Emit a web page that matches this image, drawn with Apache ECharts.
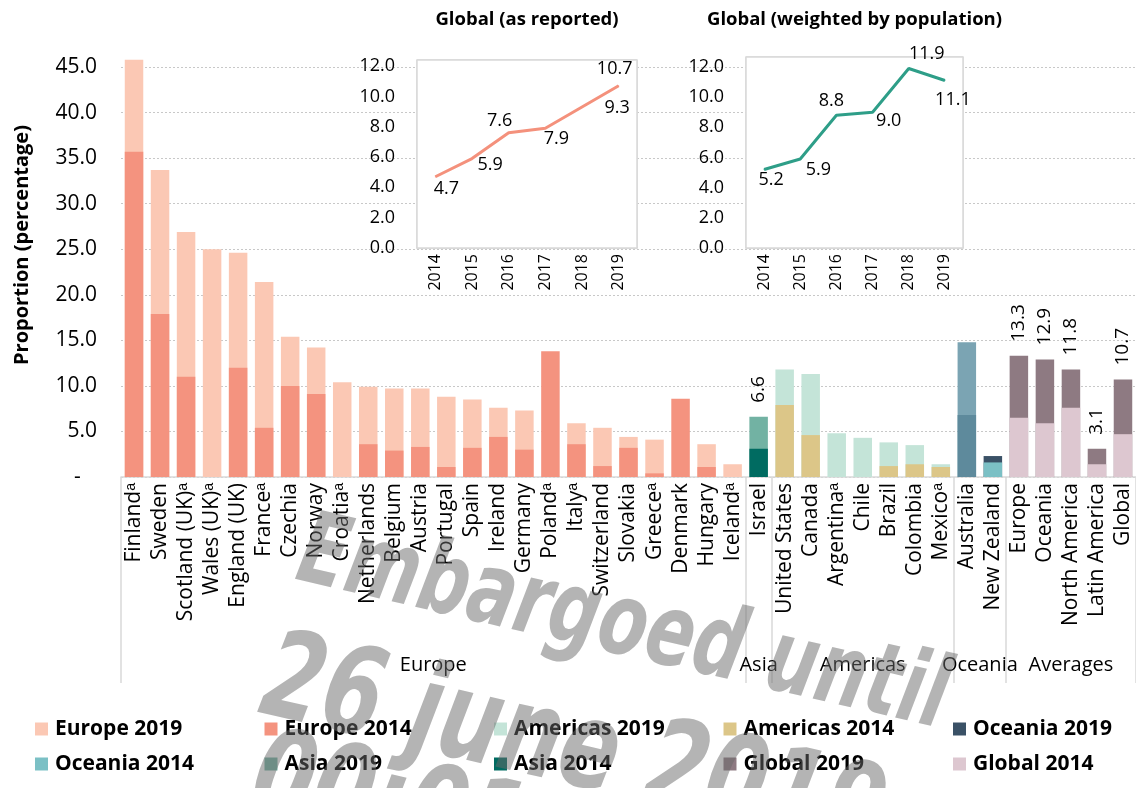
<!DOCTYPE html>
<html><head><meta charset="utf-8">
<script src="https://cdn.jsdelivr.net/npm/echarts@6/dist/echarts.min.js"></script>
<style>html,body{margin:0;padding:0;background:#fff}#c{width:1136px;height:788px}</style>
</head><body><div id="c"></div>
<script>
// ---------------- DATA ----------------
const europeCats = ['Finlandᵃ','Sweden','Scotland (UK)ᵃ','Wales (UK)ᵃ','England (UK)','Franceᵃ','Czechia','Norway','Croatiaᵃ','Netherlands','Belgium','Austria','Portugal','Spain','Ireland','Germany','Polandᵃ','Italyᵃ','Switzerland','Slovakia','Greeceᵃ','Denmark','Hungary','Icelandᵃ'];
const asiaCats = ['Israel'];
const americasCats = ['United States','Canada','Argentinaᵃ','Chile','Brazil','Colombia','Mexicoᵃ'];
const oceaniaCats = ['Australia','New Zealand'];
const averageCats = ['Europe','Oceania','North America','Latin America','Global'];
const groupNames = ['Europe','Asia','Americas','Oceania','Averages'];

const europe2019 = [45.8,33.7,26.9,25.0,24.6,21.4,15.4,14.2,10.4,9.9,9.7,9.7,8.8,8.5,7.6,7.3,null,5.9,5.4,4.4,4.1,null,3.6,1.4];
const europe2014 = [35.7,17.9,11.0,null,12.0,5.4,10.0,9.1,null,3.6,2.9,3.3,1.1,3.2,4.4,3.0,13.8,3.6,1.2,3.2,0.4,8.6,1.1,null];
const asia2019 = [6.6];
const asia2014 = [3.1];
const americas2019 = [11.8,11.3,4.8,4.3,3.8,3.5,1.4];
const americas2014 = [7.9,4.6,null,null,1.2,1.4,1.1];
const oceania2019 = [14.8,2.3];
const oceania2014 = [6.8,1.6];
const global2019 = [13.3,12.9,11.8,3.1,10.7];
const global2014 = [6.5,5.9,7.6,1.4,4.7];

const years = ['2014','2015','2016','2017','2018','2019'];
const globalReported = [4.7,5.9,7.6,7.9,9.3,10.7];
const globalWeighted = [5.2,5.9,8.8,9.0,11.9,11.1];

const insetTitles = ['Global (as reported)','Global (weighted by population)'];
const yAxisTitle = 'Proportion (percentage)';
const watermarkLines = ['Embargoed until','26 june 2019','00:01 AM'];

// ---------------- BUILD ----------------
const groups = [europeCats, asiaCats, americasCats, oceaniaCats, averageCats];
const categories = [].concat(...groups);
const N = categories.length;
const groupStart = [];
{ let s = 0; groups.forEach(g => { groupStart.push(s); s += g.length; }); groupStart.push(s); }

function place(vals, g) {
  const out = new Array(N).fill(null);
  vals.forEach((v, i) => { out[groupStart[g] + i] = v; });
  return out;
}

const FONT = '"Open Sans", sans-serif';
const seriesDefs = [
  {name:'Europe 2019', vals:europe2019, g:0, color:'#fbc8b4'},
  {name:'Americas 2019', vals:americas2019, g:2, color:'#c4e4d8'},
  {name:'Oceania 2019', vals:oceania2019, g:3, color:'#3a5166', firstColor:'#7ba4b3'},
  {name:'Asia 2019', vals:asia2019, g:1, color:'#72b2a3', label:true},
  {name:'Global 2019', vals:global2019, g:4, color:'#8e7a82', label:true},
  {name:'Europe 2014', vals:europe2014, g:0, color:'#f4937f'},
  {name:'Americas 2014', vals:americas2014, g:2, color:'#dcc688'},
  {name:'Oceania 2014', vals:oceania2014, g:3, color:'#7bc0c5', firstColor:'#5e8a9c'},
  {name:'Asia 2014', vals:asia2014, g:1, color:'#006b61'},
  {name:'Global 2014', vals:global2014, g:4, color:'#ddc7d0'}
];
const legendOrder = ['Europe 2019','Europe 2014','Americas 2019','Americas 2014','Oceania 2019',
                     'Oceania 2014','Asia 2019','Asia 2014','Global 2019','Global 2014'];

const barSeries = seriesDefs.map(d => {
  const data = place(d.vals, d.g).map((v, i) => {
    if (v == null) return null;
    if (d.firstColor && i === groupStart[d.g]) return {value: v, itemStyle: {color: d.firstColor}};
    return v;
  });
  return {
    name: d.name, type: 'bar', xAxisIndex: 0, yAxisIndex: 0,
    barWidth: 18.5, barGap: '-100%', clip: false,
    itemStyle: {color: d.color},
    emphasis: {disabled: true},
    label: d.label ? {show: true, position: 'top', rotate: 90, align: 'left', verticalAlign: 'middle',
      distance: 14, fontSize: 19, fontFamily: FONT, color: '#000',
      formatter: p => Number(p.value).toFixed(1)} : {show: false},
    data
  };
});

const reportedLabelPos = [['bottom',[11,-2]],['right',[0,6]],['top',[-9,3]],['bottom',[11,-4]],['right',[17,1]],['top',[-4,-2]]];
const weightedLabelPos = [['bottom',[7,-4]],['right',[0,11]],['top',[-5,0]],['right',[-2,9]],['top',[18,0]],['bottom',[8,5]]];

function lineSeries(name, vals, idx, color, pos) {
  return {
    name, type: 'line', xAxisIndex: idx, yAxisIndex: idx,
    symbol: 'circle', symbolSize: 1, lineStyle: {color, width: 3}, itemStyle: {color},
    emphasis: {disabled: true}, z: 5,
    data: vals.map((v, i) => ({value: v, label: {show: true, position: pos[i][0], offset: pos[i][1],
      fontSize: 18, fontFamily: FONT, color: '#000', formatter: p => Number(p.value).toFixed(1)}}))
  };
}

const insetGrids = [{left: 417, top: 60, width: 220, height: 188}, {left: 746, top: 57, width: 217, height: 191}];
const insetMax = [12.4, 12.66];

const option = {
  backgroundColor: '#fff',
  animation: false,
  textStyle: {fontFamily: FONT},
  grid: [
    {left: 121, right: 0, top: 67, bottom: 311},
    Object.assign({show: true, backgroundColor: '#fff', borderColor: '#d9d9d9', borderWidth: 1.5, z: 3}, insetGrids[0]),
    Object.assign({show: true, backgroundColor: '#fff', borderColor: '#d9d9d9', borderWidth: 1.5, z: 3}, insetGrids[1])
  ],
  xAxis: [
    {type: 'category', gridIndex: 0, data: categories, boundaryGap: true,
     axisLine: {lineStyle: {color: '#d9d9d9', width: 1.5}},
     axisTick: {show: true, interval: (i) => groupStart.indexOf(i) >= 0, length: 206, lineStyle: {color: '#d9d9d9', width: 1.5}},
     axisLabel: {interval: 0, rotate: 90, margin: 6, fontSize: 21, fontFamily: FONT, color: '#000'}},
    ...[1,2].map(k => ({type: 'category', gridIndex: k, data: years, boundaryGap: true,
     axisLine: {lineStyle: {color: '#d9d9d9', width: 1.5}}, axisTick: {show: false},
     splitLine: {show: true, interval: 0, lineStyle: {color: '#d9d9d9', width: 1.5}},
     axisLabel: {interval: 0, rotate: 90, margin: 6, fontSize: 16, fontFamily: FONT, color: '#000'}}))
  ],
  yAxis: [
    {type: 'value', gridIndex: 0, min: 0, max: 45, interval: 5,
     axisLine: {show: false}, axisTick: {show: false},
     splitLine: {lineStyle: {color: '#c8c8c8', type: [2, 2], width: 1}},
     axisLabel: {margin: 24, fontSize: 21, fontFamily: FONT, color: '#000',
       formatter: v => v === 0 ? '-   ' : v.toFixed(1)}},
    ...[1,2].map(k => ({type: 'value', gridIndex: k, min: 0, max: insetMax[k-1], interval: 2,
     axisLine: {show: false}, axisTick: {show: false},
     splitLine: {lineStyle: {color: '#d9d9d9', width: 1.5}},
     axisLabel: {margin: 22, fontSize: 18, fontFamily: FONT, color: '#000', showMaxLabel: false,
       formatter: v => v.toFixed(1)}}))
  ],
  legend: legendOrder.map((name, i) => ({
    data: [name], left: 35 + 229.5 * (i % 5), top: i < 5 ? 717 : 752, padding: 0,
    itemWidth: 13, itemHeight: 13, icon: 'rect', selectedMode: false,
    textStyle: {fontSize: 21, fontWeight: 'bold', fontFamily: FONT, color: '#000', lineHeight: 24, padding: [0,0,0,2]}
  })),
  series: [
    ...barSeries,
    lineSeries('Global (as reported)', globalReported, 1, '#f4917c', reportedLabelPos),
    lineSeries('Global (weighted by population)', globalWeighted, 2, '#2e9e88', weightedLabelPos)
  ]
};

const chart = echarts.init(document.getElementById('c'), null, {renderer: 'canvas'});
chart.setOption(option);

// graphic: titles, group labels, watermark
const graphics = [];
graphics.push({type: 'text', x: 22, y: 245, rotation: Math.PI / 2, z: 10,
  style: {text: yAxisTitle, fontSize: 20, fontWeight: 'bold', fontFamily: FONT, fill: '#000', align: 'center', verticalAlign: 'middle'}});
insetGrids.forEach((g, i) => graphics.push({type: 'text', x: g.left + g.width / 2, y: 20, z: 10,
  style: {text: insetTitles[i], fontSize: 18.5, fontWeight: 'bold', fontFamily: FONT, fill: '#000', align: 'center', verticalAlign: 'middle'}}));
groupNames.forEach((name, g) => {
  const a = chart.convertToPixel({xAxisIndex: 0}, groupStart[g]);
  const b = chart.convertToPixel({xAxisIndex: 0}, groupStart[g + 1] - 1);
  graphics.push({type: 'text', x: (a + b) / 2, y: 665, z: 10,
    style: {text: name, fontSize: 20, fontFamily: FONT, fill: '#000', align: 'center', verticalAlign: 'middle'}});
});
const wmPos = [[288, 602], [250, 740], [240, 838]];
const wmSize = [100, 122, 122];
watermarkLines.forEach((t, i) => graphics.push({type: 'text', x: wmPos[i][0], y: wmPos[i][1],
  rotation: -13 * Math.PI / 180, scaleX: 0.79, scaleY: 1, z: 100,
  style: {text: t, fontSize: wmSize[i], fontWeight: 'bold', fontStyle: 'italic',
    fontFamily: '"DejaVu Sans Condensed", sans-serif',
    fill: 'rgba(105,105,105,0.5)', align: 'left', verticalAlign: 'bottom'}}));
chart.setOption({graphic: graphics});
</script></body></html>
